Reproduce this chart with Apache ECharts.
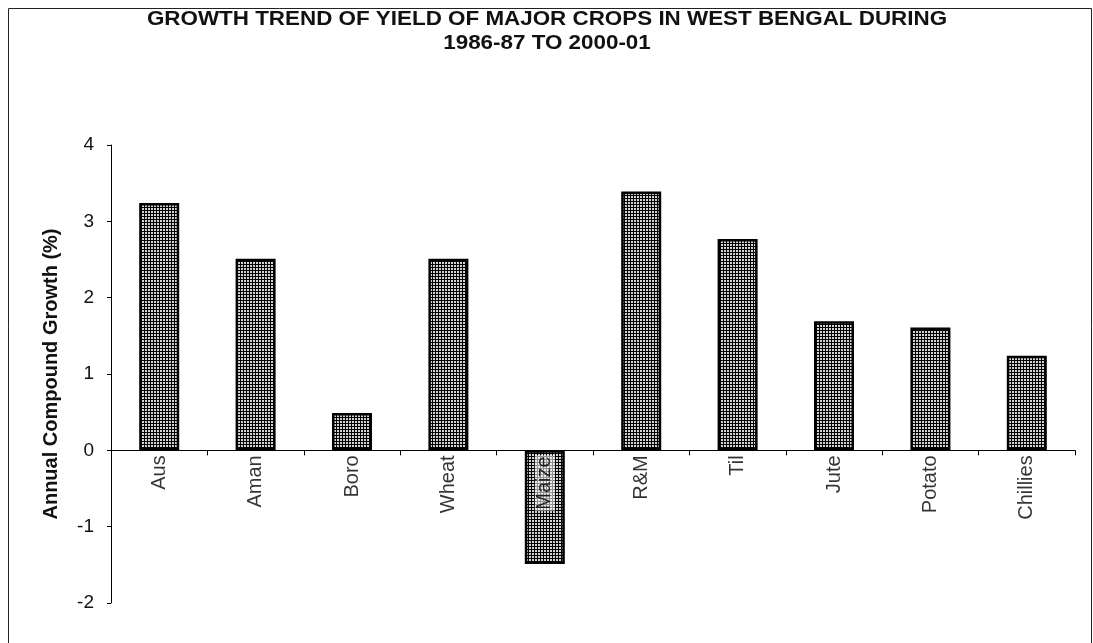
<!DOCTYPE html>
<html>
<head>
<meta charset="utf-8">
<script src="https://cdn.jsdelivr.net/npm/echarts@6/dist/echarts.min.js"></script>
<style>
  html, body { margin: 0; padding: 0; background: #fff; }
  #chart { width: 1093px; height: 643px; }
</style>
</head>
<body>
<div id="chart"></div>
<script>
// Crops and their annual compound growth rate of yield (%)
const crops = ['Aus', 'Aman', 'Boro', 'Wheat', 'Maize', 'R&M', 'Til', 'Jute', 'Potato', 'Chillies'];
const growth = [3.24, 2.51, 0.49, 2.51, -1.49, 3.39, 2.77, 1.69, 1.61, 1.24];
const titleLines = ['GROWTH TREND OF YIELD OF MAJOR CROPS IN WEST BENGAL DURING', '1986-87 TO 2000-01'];
const yAxisName = 'Annual Compound Growth (%)';

// Fine crosshatch fill for the bars
function hatch() {
  const c = document.createElement('canvas');
  c.width = 3; c.height = 3;
  const g = c.getContext('2d');
  g.fillStyle = '#d4d4d4';
  g.fillRect(0, 0, 3, 3);
  g.fillStyle = '#000000';
  g.fillRect(0, 0, 3, 1);
  g.fillRect(0, 0, 1, 3);
  return c;
}

const chart = echarts.init(document.getElementById('chart'));
const font = '"Liberation Sans", Arial, sans-serif';

chart.setOption({
  backgroundColor: '#fff',
  animation: false,
  graphic: [
    {
      type: 'rect',
      shape: { x: 8.5, y: 8.5, width: 1083, height: 640 },
      style: { fill: 'none', stroke: '#222', lineWidth: 1 },
      silent: true
    },
    {
      type: 'text',
      x: 547,
      y: 31,
      scaleX: 1.12,
      style: {
        text: titleLines.join('\n'),
        fontFamily: font,
        fontSize: 20,
        fontWeight: 'bold',
        lineHeight: 24,
        fill: '#111',
        align: 'center',
        verticalAlign: 'middle'
      },
      silent: true
    }
  ],
  grid: { left: 111, right: 18, top: 145, bottom: 40, outerBoundsMode: 'none', containLabel: false },
  xAxis: {
    type: 'category',
    data: crops,
    axisLine: { onZero: true, lineStyle: { color: '#000', width: 1 } },
    axisTick: { show: true, alignWithLabel: false, length: 5, lineStyle: { color: '#000' } },
    axisLabel: { show: false },
    splitLine: { show: false }
  },
  yAxis: {
    type: 'value',
    min: -2,
    max: 4,
    interval: 1,
    name: yAxisName,
    nameLocation: 'middle',
    nameRotate: 90,
    nameGap: 50,
    nameTextStyle: { fontFamily: font, fontSize: 20, fontWeight: 'bold', color: '#111' },
    axisLine: { show: true, lineStyle: { color: '#000', width: 1 } },
    axisTick: { show: true, length: 4, lineStyle: { color: '#000' } },
    axisLabel: { fontFamily: font, fontSize: 19, color: '#111', margin: 17 },
    splitLine: { show: false }
  },
  series: [
    {
      type: 'bar',
      data: growth,
      barWidth: '41.5%',
      itemStyle: {
        color: { image: hatch(), repeat: 'repeat' },
        borderColor: '#000',
        borderWidth: 2.5
      }
    },
    {
      // category names hung just below the zero line
      type: 'scatter',
      data: crops.map((c, i) => ({
        value: 0,
        // lighten the patch behind a name that sits on a downward bar
        label: growth[i] < 0 ? { backgroundColor: 'rgba(255,255,255,0.7)', padding: [0, 1] } : {}
      })),
      symbolSize: 0,
      silent: true,
      z: 5,
      label: {
        show: true,
        position: 'bottom',
        distance: 5,
        rotate: 90,
        align: 'right',
        verticalAlign: 'middle',
        formatter: (p) => crops[p.dataIndex],
        fontFamily: font,
        fontSize: 20,
        color: '#000'
      }
    }
  ]
});
</script>
</body>
</html>
